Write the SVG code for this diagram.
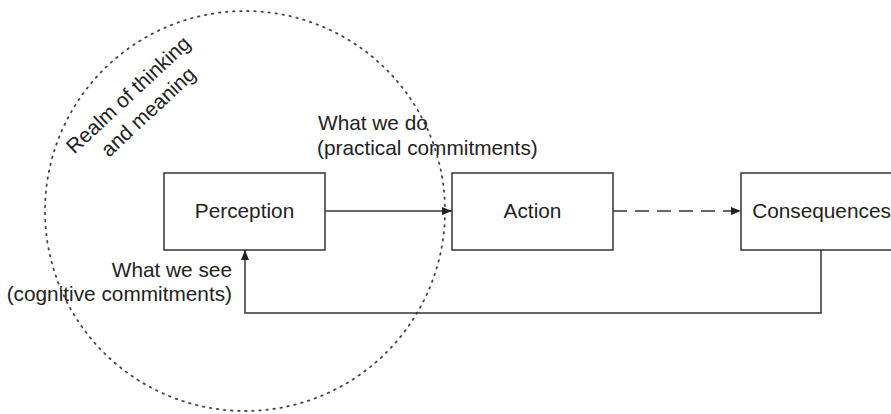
<svg xmlns="http://www.w3.org/2000/svg" width="891" height="414" viewBox="0 0 891 414">
<style>
.box{fill:#fff;stroke:#333;stroke-width:1.5}
.lbl{font-family:"Liberation Sans",Arial,sans-serif;font-size:20.8px;fill:#222}
.c{text-anchor:middle}
.e{text-anchor:end}
.ln{fill:none;stroke:#333;stroke-width:1.5}
.dash{stroke-dasharray:14 8}
.dots{fill:none;stroke:#444;stroke-width:1.8;stroke-dasharray:1.5 5.6;stroke-linecap:round}
</style>
<defs>
<marker id="ah" viewBox="0 0 10 8" refX="10" refY="4" markerWidth="10" markerHeight="8" markerUnits="userSpaceOnUse" orient="auto">
<path d="M0,0 L10,4 L0,8 Z" fill="#222"/>
</marker>
</defs>
<rect width="891" height="414" fill="#fff"/>
<g id="realm">
<circle class="dots" cx="245" cy="211" r="200"/>
<g transform="translate(133,100) rotate(-43)">
<text class="lbl c" x="0" y="0">Realm of thinking</text>
<text class="lbl c" x="3" y="26">and meaning</text>
</g>
</g>
<g id="perception">
<rect class="box" x="164" y="173" width="161" height="77"/>
<text class="lbl c" x="244.5" y="218">Perception</text>
</g>
<g id="action">
<rect class="box" x="452" y="173" width="161" height="77"/>
<text class="lbl c" x="532.5" y="218">Action</text>
</g>
<g id="consequences">
<rect class="box" x="741" y="173" width="161" height="77"/>
<text class="lbl c" x="821.5" y="218">Consequences</text>
</g>
<g id="connectors">
<line class="ln" x1="325" y1="211" x2="452" y2="211" marker-end="url(#ah)"/>
<line class="ln dash" x1="613" y1="211" x2="741" y2="211" marker-end="url(#ah)"/>
<polyline class="ln" points="821,250 821,313 245,313 245,250" marker-end="url(#ah)"/>
</g>
<g id="labels">
<text class="lbl" x="318" y="130">What we do</text>
<text class="lbl" x="317" y="155">(practical commitments)</text>
<text class="lbl e" x="232" y="277">What we see</text>
<text class="lbl e" x="232" y="301">(cognitive commitments)</text>
</g>
</svg>
